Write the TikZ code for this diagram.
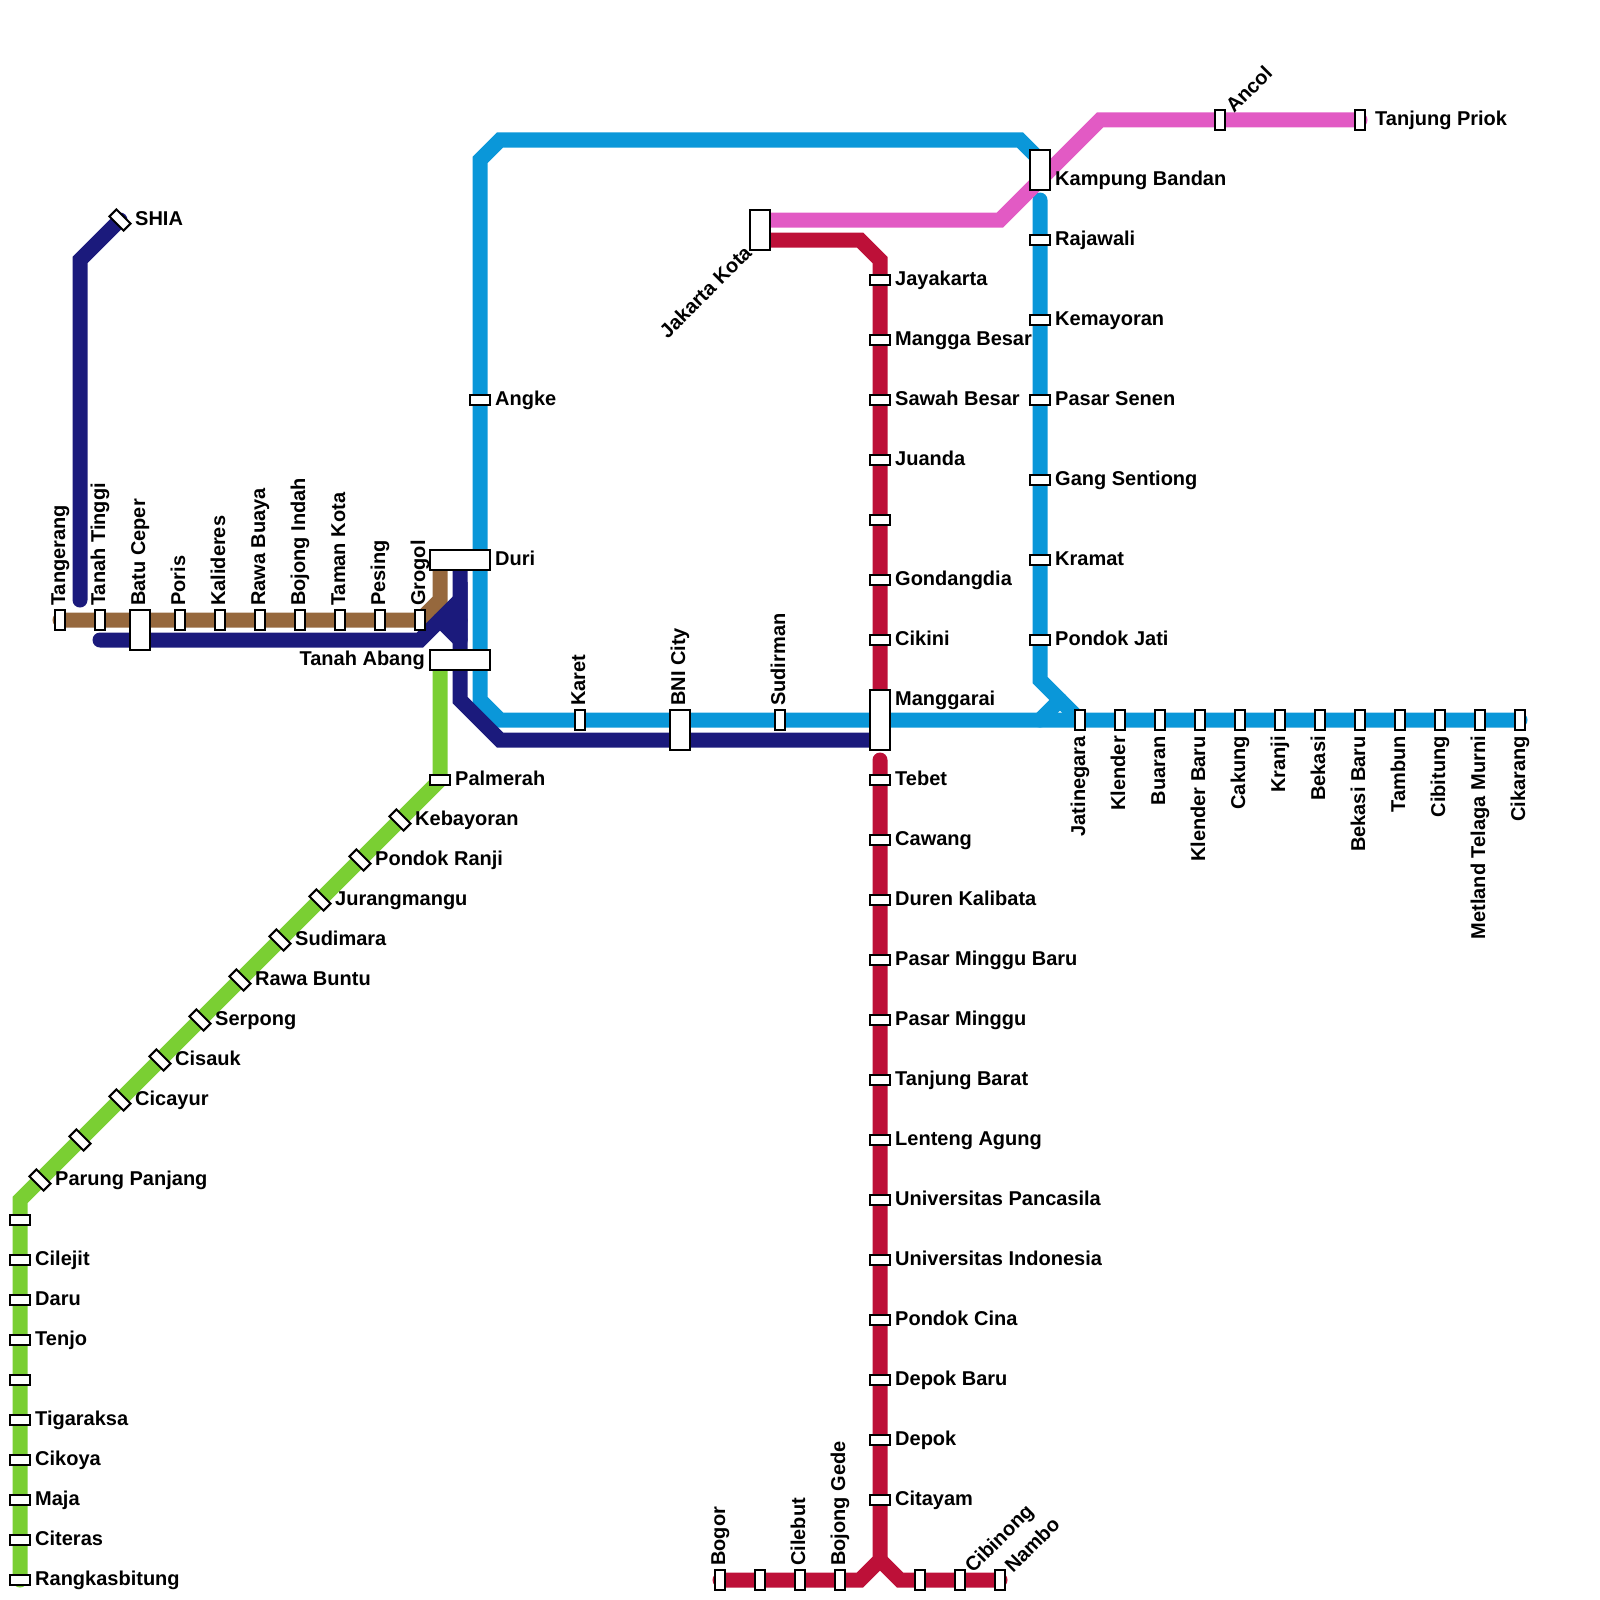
\documentclass[tikz,border=0pt]{standalone}
\usepackage{fontspec}
\setmainfont{Liberation Sans}
\usetikzlibrary{backgrounds}
\definecolor{lineblue}{HTML}{0A97D9}
\definecolor{linepink}{HTML}{E25AC4}
\definecolor{linered}{HTML}{BD1038}
\definecolor{linenavy}{HTML}{1B1A7C}
\definecolor{linebrown}{HTML}{96683D}
\definecolor{linegreen}{HTML}{7ACF33}

\begin{document}
\begin{tikzpicture}[
    x=1pt,
    y=-1pt,
    font=\bfseries\fontsize{20}{22}\selectfont,
    track/.style={
      draw=#1,
      line width=15pt,
      line cap=round,
    },
    stop/.style 2 args={
      draw=black,
      fill=white,
      line width=2pt,
      minimum width=#1,
      minimum height=#2,
      inner sep=0pt,
    },
    stoph/.style={stop={20pt}{10pt}},
    stopv/.style={stop={10pt}{20pt}},
    stopd/.style={stop={20pt}{10pt}, rotate=-45},
    side/.style={anchor=base west, inner sep=0pt},
    sider/.style={anchor=base east, inner sep=0pt},
    upward/.style={rotate=90, anchor=base west, inner sep=0pt},
    downward/.style={rotate=90, anchor=base east, inner sep=0pt},
    slant/.style={rotate=45, anchor=base west, inner sep=0pt},
  ]

  \useasboundingbox (0,0) rectangle (1600,1600);

  % Bends and free ends of the tracks
  \foreach \name/\x/\y in {
      shiaturn/80/260, shiaend/80/600,
      navystart/100/640, navyknee/420/640, navypeak/460/600, navysplit/440/620, navycore/460/620, navyback/460/640,
      navylow/460/700, navybend/500/740, navyend/880/740,
      brownbend/440/600, browntop/440/560,
      greenbend/20/1200, greentop/440/660,
      looptop/1040/160, loopne/1020/140, loopnw/500/140, loopwn/480/160, loopws/480/700, loopsw/500/720,
      spurtop/1040/200, spurlow/1040/680, spurend/1080/720, forkin/1060/700, forkout/1040/720,
      pinkstart/760/220, pinkbend/1000/220, pinkrise/1100/120,
      redstart/760/240, redbend/860/240, reddown/880/260, redtop/880/760, redfork/880/1560,
      redleft/860/1580, redright/900/1580} {
    \coordinate (\name) at (\x,\y);
  }

  % Green line
  \foreach \y/\txt in {1580/Rangkasbitung,1540/Citeras,1500/Maja,1460/Cikoya,1420/Tigaraksa,1340/Tenjo,1300/Daru,1260/Cilejit} {
    \node[stoph] (grn\y) at (20,\y) {};
    \node[side] (grnl\y) at (35,\y+5) {\txt};
  }
  \node[stoph] (grn1380) at (20,1380) {};
  \node[stoph] (grn1220) at (20,1220) {};
  \foreach \x/\y/\txt in {40/1180/Parung Panjang,120/1100/Cicayur,160/1060/Cisauk,200/1020/Serpong,240/980/Rawa Buntu,
      280/940/Sudimara,320/900/Jurangmangu,360/860/Pondok Ranji,400/820/Kebayoran} {
    \node[stopd] (grn\x) at (\x,\y) {};
    \node[side] (grnl\x) at (\x+15,\y+5) {\txt};
  }
  \node[stopd] (grn80) at (80,1140) {};
  \node[stoph] (palmerah) at (440,780) {};
  \node[side] (palmerahl) at (455,785) {Palmerah};

  % Brown line
  \foreach \x/\txt in {60/Tangerang,100/Tanah Tinggi,180/Poris,220/Kalideres,260/Rawa Buaya,300/Bojong Indah,340/Taman Kota,380/Pesing,420/Grogol} {
    \node[stopv] (brn\x) at (\x,620) {};
    \node[upward] (brnl\x) at (\x+5,606) {\txt};
  }
  \node[stop={20pt}{40pt}] (batuceper) at (140,630) {};
  \node[upward] (batuceperl) at (145,606) {Batu Ceper};

  % Navy spur
  \node[stopd] (shia) at (120,220) {};
  \node[side] (shial) at (135,225) {SHIA};

  % Interchanges
  \node[stop={60pt}{20pt}] (duri) at (460,560) {};
  \node[side] (duril) at (495,565) {Duri};
  \node[stop={60pt}{20pt}] (tanahabang) at (460,660) {};
  \node[sider] (tanahabangl) at (425,665) {Tanah Abang};
  \node[stop={20pt}{60pt}] (manggarai) at (880,720) {};
  \node[side] (manggarail) at (895,705) {Manggarai};
  \node[stop={20pt}{40pt}] (kampung) at (1040,170) {};
  \node[side] (kampungl) at (1055,185) {Kampung Bandan};
  \node[stop={20pt}{40pt}] (jakartakota) at (760,230) {};
  \node[rotate=45, anchor=base east, inner sep=0pt] (jakartakotal) at (753,254) {Jakarta Kota};

  % Blue line
  \node[stoph] (angke) at (480,400) {};
  \node[side] (angkel) at (495,405) {Angke};
  \foreach \x/\txt in {580/Karet,780/Sudirman} {
    \node[stopv] (blu\x) at (\x,720) {};
    \node[upward] (blul\x) at (\x+5,706) {\txt};
  }
  \node[stop={20pt}{40pt}] (bnicity) at (680,730) {};
  \node[upward] (bnicityl) at (685,706) {BNI City};
  \foreach \y/\txt in {240/Rajawali,320/Kemayoran,400/Pasar Senen,480/Gang Sentiong,560/Kramat,640/Pondok Jati} {
    \node[stoph] (blu\y) at (1040,\y) {};
    \node[side] (blul\y) at (1055,\y+5) {\txt};
  }
  \foreach \x/\txt in {1080/Jatinegara,1120/Klender,1160/Buaran,1200/Klender Baru,1240/Cakung,1280/Kranji,
      1320/Bekasi,1360/Bekasi Baru,1400/Tambun,1440/Cibitung,1480/Metland Telaga Murni,1520/Cikarang} {
    \node[stopv] (blu\x) at (\x,720) {};
    \node[downward] (blul\x) at (\x+5,736) {\txt};
  }

  % Pink line
  \node[stopv] (ancol) at (1220,120) {};
  \node[slant] (ancoll) at (1234,114) {Ancol};
  \node[stopv] (priok) at (1360,120) {};
  \node[side] (priokl) at (1375,125) {Tanjung Priok};

  % Red line
  \foreach \y/\txt in {280/Jayakarta,340/Mangga Besar,400/Sawah Besar,460/Juanda,580/Gondangdia,640/Cikini,
      780/Tebet,840/Cawang,900/Duren Kalibata,960/Pasar Minggu Baru,1020/Pasar Minggu,1080/Tanjung Barat,
      1140/Lenteng Agung,1200/Universitas Pancasila,1260/Universitas Indonesia,1320/Pondok Cina,
      1380/Depok Baru,1440/Depok,1500/Citayam} {
    \node[stoph] (red\y) at (880,\y) {};
    \node[side] (redl\y) at (895,\y+5) {\txt};
  }
  \node[stoph] (red520) at (880,520) {};
  \foreach \x/\txt in {720/Bogor,800/Cilebut,840/Bojong Gede} {
    \node[stopv] (red\x) at (\x,1580) {};
    \node[upward] (redl\x) at (\x+5,1566) {\txt};
  }
  \foreach \x in {760,920} {
    \node[stopv] (red\x) at (\x,1580) {};
  }
  \foreach \x/\txt in {960/Cibinong,1000/Nambo} {
    \node[stopv] (red\x) at (\x,1580) {};
    \node[slant] (redl\x) at (\x+13,1574) {\txt};
  }

  % Tracks go under the stations
  \begin{pgfonlayer}{background}
    \draw[track=linebrown] (brn60.center) -- (brn420.center) -- (brownbend) -- (browntop);
    \draw[track=linegreen] (grn1580.center) -- (greenbend) -- (palmerah.center) -- (greentop);
    \draw[track=lineblue] (looptop) -- (loopne) -- (loopnw) -- (loopwn) -- (loopws) -- (loopsw) -- (manggarai.center) -- (blu1520.center);
    \draw[track=lineblue] (spurtop) -- (spurlow) -- (spurend);
    \draw[track=lineblue] (forkin) -- (forkout);
    \draw[track=linepink] (pinkstart) -- (pinkbend) -- (pinkrise) -- (priok.center);
    \draw[track=linered] (redstart) -- (redbend) -- (reddown) -- (manggarai.center);
    \draw[track=linered] (redtop) -- (redfork) -- (redleft) -- (red720.center);
    \draw[track=linered] (redfork) -- (redright) -- (red1000.center);
    \draw[track=linenavy] (shia.center) -- (shiaturn) -- (shiaend);
    \draw[track=linenavy] (navystart) -- (navyknee) -- (navypeak) -- (navyback);
    \draw[track=linenavy] (navysplit) -- (navyback);
    \draw[track=linenavy] (navysplit) -- (navycore);
    \draw[track=linenavy] (duri.center) -- (navylow) -- (navybend) -- (navyend);
  \end{pgfonlayer}

\end{tikzpicture}
\end{document}
